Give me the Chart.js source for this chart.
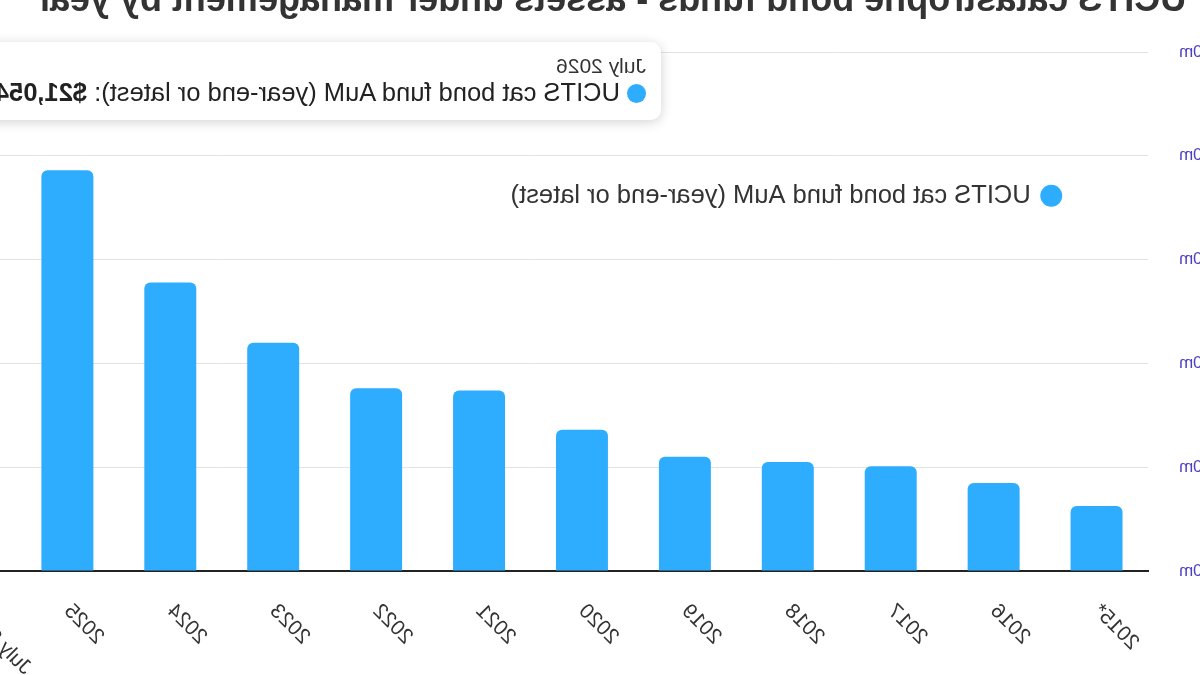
<!DOCTYPE html>
<html>
<head>
<meta charset="utf-8">
<script src="https://cdn.jsdelivr.net/npm/chart.js@4/dist/chart.umd.min.js"></script>
<style>
  html, body { margin: 0; padding: 0; background: #fff; }
  #quadro {
    position: relative; width: 1200px; height: 675px; overflow: hidden;
    transform: scaleX(-1);
    font-family: 'Liberation Sans', Arial, sans-serif;
  }
  #titulo {
    position: absolute; right: 36px; top: -19px;
    font-size: 36px; line-height: 36px; font-weight: bold; color: #333;
    white-space: nowrap;
  }
  #grafico { position: absolute; left: -80px; top: 0; }
  #dica {
    position: absolute; left: 539px; top: 42px; display: none;
    background: #fff; border-radius: 10px;
    box-shadow: 0 2px 12px rgba(0, 0, 0, 0.18);
    padding: 12px 15px 13px 15px; white-space: nowrap; color: #222;
  }
  .dicaTitulo { font-size: 21px; line-height: 24px; color: #333; }
  .dicaCorpo { font-size: 25.5px; line-height: 29px; }
  .bola {
    display: inline-block; width: 19px; height: 19px; border-radius: 50%;
    background: rgb(46, 173, 255); margin-right: 7px; vertical-align: -2px;
  }
</style>
</head>
<body>
<div id="quadro">
  <div id="titulo">UCITS catastrophe bond funds - assets under management by year</div>
  <canvas id="grafico" width="1377" height="700"></canvas>
  <div id="dica"></div>
</div>
<script>
// UCITS cat bond fund AuM, $m
var categorias = ['2015*', '2016', '2017', '2018', '2019', '2020', '2021', '2022', '2023', '2024', '2025', 'July 2026'];
var aumValores = [3130, 4240, 5050, 5250, 5500, 6800, 8700, 8800, 11000, 13900, 19300, 21054];
var eixoY = [0, 5000, 10000, 15000, 20000, 25000];
var nomeSerie = 'UCITS cat bond fund AuM (year-end or latest)';

var fonte = "'Liberation Sans', Arial, sans-serif";
var corBarra = 'rgb(46, 173, 255)';

function formatar(v) {
    return '$' + v.toLocaleString('en-US') + 'm';
}

function dicaExterna(context) {
    var tooltip = context.tooltip;
    var dica = document.getElementById('dica');
    if (tooltip.opacity === 0 || !tooltip.dataPoints || !tooltip.dataPoints.length) {
        dica.style.display = 'none';
        return;
    }
    var item = tooltip.dataPoints[0];
    dica.innerHTML = `<div class="dicaTitulo">${item.label}</div>
    <div class="dicaCorpo"><span class="bola"></span>${item.dataset.label}: <b>${formatar(item.raw)}</b></div>`;
    dica.style.display = 'block';
}

var dados = {
    labels: categorias,
    datasets: [
        {
            label: nomeSerie,
            data: aumValores,
            backgroundColor: corBarra,
            borderWidth: 0,
            borderRadius: 6,
            borderSkipped: 'start',
            categoryPercentage: 1,
            barPercentage: 0.505
        }
    ]
};

var config = {
    type: 'bar',
    data: dados,
    options: {
        responsive: false,
        animation: false,
        layout: { padding: { top: 52, left: 0, right: 10, bottom: 0 } },
        scales: {
            x: {
                grid: { display: false, drawTicks: false },
                border: { display: true, color: '#222', width: 2 },
                ticks: {
                    minRotation: 45,
                    maxRotation: 45,
                    padding: 28,
                    color: '#333',
                    font: { family: fonte, size: 21 }
                },
                afterFit: function (axis) { axis.height = 129; }
            },
            y: {
                min: eixoY[0],
                max: eixoY[eixoY.length - 1],
                grid: { color: '#e3e3e3', drawTicks: false },
                border: { display: false },
                ticks: {
                    stepSize: eixoY[1] - eixoY[0],
                    padding: 31,
                    color: '#4b3fc4',
                    font: { family: fonte, size: 17 },
                    callback: function (v) { return formatar(v); }
                },
                afterFit: function (axis) { axis.width = 132; }
            }
        },
        plugins: {
            legend: {
                position: 'chartArea',
                align: 'start',
                title: { display: true, text: ' ', font: { size: 10 }, padding: { top: 0, bottom: 82 } },
                labels: {
                    usePointStyle: true,
                    pointStyle: 'circle',
                    boxWidth: 15.5,
                    boxHeight: 15.5,
                    padding: 89,
                    color: '#333',
                    font: { family: fonte, size: 25.5 }
                }
            },
            tooltip: {
                enabled: false,
                external: dicaExterna
            }
        }
    }
};

var grafico = new Chart(document.getElementById('grafico'), config);
grafico.tooltip.setActiveElements([{ datasetIndex: 0, index: categorias.length - 1 }], { x: 0, y: 0 });
grafico.update();
</script>
</body>
</html>
